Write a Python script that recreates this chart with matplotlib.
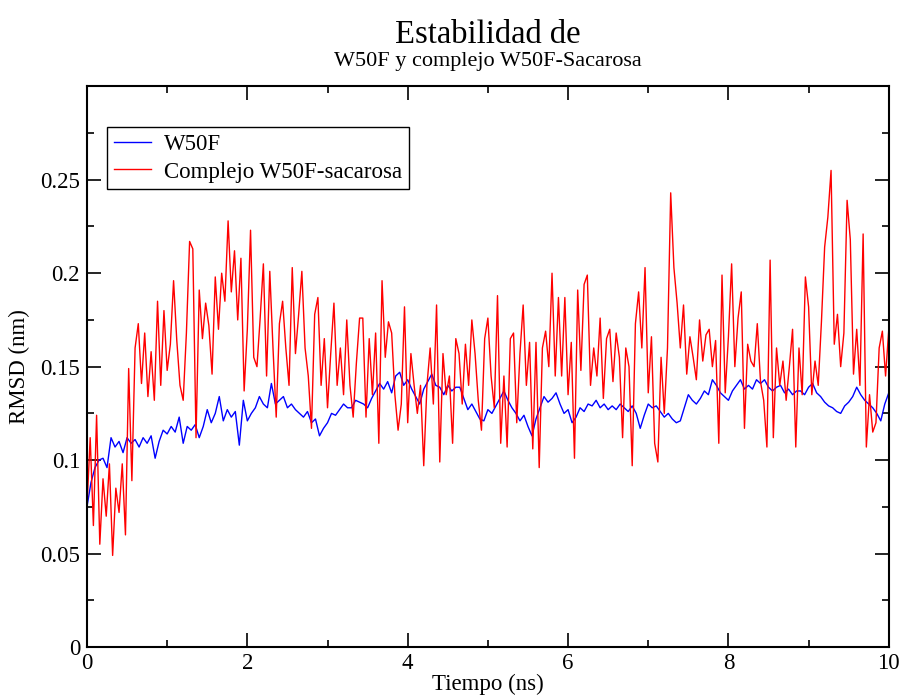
import numpy as np
import matplotlib
matplotlib.use('Agg')
import matplotlib.pyplot as plt
from matplotlib.ticker import MultipleLocator, FixedLocator

plt.rcParams['font.family'] = ['Liberation Serif', 'DejaVu Serif']

# RMSD (nm) of the free protein, sampled every 0.05 ns
t_w50f = np.arange(201) * 0.05
rmsd_w50f = [
    0.075, 0.088, 0.096, 0.100, 0.101, 0.096, 0.112, 0.107, 0.110, 0.104,
    0.112, 0.109, 0.111, 0.107, 0.112, 0.109, 0.113, 0.101, 0.110, 0.116,
    0.114, 0.118, 0.115, 0.123, 0.109, 0.118, 0.116, 0.119, 0.112, 0.118,
    0.127, 0.120, 0.125, 0.134, 0.121, 0.127, 0.123, 0.126, 0.108, 0.132,
    0.121, 0.125, 0.128, 0.134, 0.130, 0.128, 0.141, 0.130, 0.132, 0.134,
    0.128, 0.130, 0.127, 0.125, 0.123, 0.126, 0.120, 0.122, 0.113, 0.117,
    0.120, 0.125, 0.124, 0.127, 0.130, 0.128, 0.128, 0.132, 0.131, 0.130,
    0.128, 0.133, 0.137, 0.141, 0.138, 0.142, 0.136, 0.145, 0.147, 0.140,
    0.143, 0.138, 0.134, 0.130, 0.138, 0.142, 0.146, 0.140, 0.139, 0.135,
    0.140, 0.137, 0.139, 0.139, 0.133, 0.127, 0.130, 0.126, 0.122, 0.121,
    0.127, 0.125, 0.129, 0.133, 0.137, 0.132, 0.128, 0.125, 0.121, 0.124,
    0.118, 0.113, 0.122, 0.128, 0.134, 0.131, 0.133, 0.136, 0.130, 0.125,
    0.127, 0.120, 0.123, 0.128, 0.126, 0.130, 0.129, 0.132, 0.128, 0.130,
    0.127, 0.129, 0.127, 0.130, 0.128, 0.126, 0.129, 0.125, 0.117, 0.124,
    0.130, 0.128, 0.129, 0.126, 0.123, 0.125, 0.122, 0.120, 0.121, 0.128,
    0.135, 0.132, 0.130, 0.133, 0.137, 0.135, 0.143, 0.140, 0.136, 0.134,
    0.132, 0.137, 0.140, 0.143, 0.138, 0.140, 0.138, 0.143, 0.141, 0.143,
    0.139, 0.137, 0.139, 0.140, 0.136, 0.138, 0.135, 0.137, 0.137, 0.135,
    0.139, 0.141, 0.136, 0.134, 0.131, 0.129, 0.128, 0.126, 0.125, 0.129,
    0.131, 0.134, 0.139, 0.135, 0.132, 0.130, 0.128, 0.125, 0.121, 0.130,
    0.136,
]

# RMSD (nm) of the protein-sucrose complex, sampled every 0.04 ns
t_complejo = np.arange(251) * 0.04
rmsd_complejo = [
    0.075, 0.112, 0.065, 0.124, 0.055, 0.090, 0.070, 0.098, 0.049, 0.085,
    0.072, 0.098, 0.060, 0.149, 0.089, 0.160, 0.173, 0.141, 0.168, 0.134,
    0.158, 0.132, 0.185, 0.140, 0.180,
    0.148, 0.162, 0.196, 0.164, 0.140, 0.132, 0.168, 0.217, 0.213, 0.112,
    0.191, 0.165, 0.184, 0.172, 0.146, 0.198, 0.170, 0.200, 0.185, 0.228,
    0.190, 0.212, 0.175, 0.208, 0.137,
    0.170, 0.223, 0.155, 0.150, 0.176, 0.205, 0.145, 0.201, 0.160, 0.123,
    0.173, 0.185, 0.160, 0.140, 0.203, 0.157, 0.178, 0.201, 0.160, 0.145,
    0.117, 0.178, 0.187, 0.140, 0.165,
    0.128, 0.157, 0.184, 0.140, 0.160, 0.135, 0.175, 0.140, 0.123, 0.152,
    0.176, 0.176, 0.123, 0.165, 0.135, 0.168, 0.109, 0.196, 0.155, 0.174,
    0.168, 0.135, 0.116, 0.130, 0.182,
    0.120, 0.157, 0.140, 0.125, 0.140, 0.097, 0.140, 0.160, 0.130, 0.183,
    0.099, 0.157, 0.135, 0.145, 0.109, 0.165, 0.157, 0.130, 0.162, 0.140,
    0.175, 0.157, 0.132, 0.116, 0.165,
    0.176, 0.145, 0.128, 0.188, 0.109, 0.145, 0.107, 0.165, 0.168, 0.120,
    0.157, 0.183, 0.140, 0.163, 0.106, 0.163, 0.096, 0.160, 0.169, 0.150,
    0.200, 0.145, 0.187, 0.145, 0.187,
    0.135, 0.163, 0.101, 0.191, 0.148, 0.194, 0.199, 0.140, 0.160, 0.145,
    0.176, 0.133, 0.165, 0.170, 0.142, 0.168, 0.155, 0.112, 0.160, 0.150,
    0.097, 0.173, 0.190, 0.160, 0.203,
    0.136, 0.166, 0.109, 0.099, 0.155, 0.125, 0.160, 0.243, 0.203, 0.184,
    0.160, 0.183, 0.146, 0.166, 0.155, 0.143, 0.175, 0.153, 0.167, 0.170,
    0.150, 0.164, 0.109, 0.199, 0.136,
    0.166, 0.205, 0.150, 0.176, 0.190, 0.117, 0.162, 0.153, 0.150, 0.173,
    0.142, 0.132, 0.107, 0.207, 0.112, 0.160, 0.140, 0.153, 0.132, 0.150,
    0.170, 0.107, 0.160, 0.135, 0.198,
    0.182, 0.135, 0.153, 0.140, 0.174, 0.214, 0.230, 0.255, 0.162, 0.178,
    0.150, 0.168, 0.239, 0.218, 0.146, 0.170, 0.140, 0.221, 0.107, 0.135,
    0.115, 0.120, 0.160, 0.169, 0.145,
    0.170,
]

x_ticks = [0, 2, 4, 6, 8, 10]
x_ticklabels = ['0', '2', '4', '6', '8', '10']
y_ticks = [0, 0.05, 0.1, 0.15, 0.2, 0.25]
y_ticklabels = ['0', '0.05', '0.1', '0.15', '0.2', '0.25']

fig = plt.figure(figsize=(9.06, 7.0), dpi=100)
ax = fig.add_axes([0.096, 0.0757, 0.885, 0.801])

ax.plot(t_w50f, rmsd_w50f, color='#0000ff', lw=1.0, label='W50F')
ax.plot(t_complejo, rmsd_complejo, color='#ff0000', lw=1.0,
        label='Complejo W50F-sacarosa')

ax.set_xlim(0, 10)
ax.set_ylim(0, 0.3)
ax.xaxis.set_major_locator(FixedLocator(x_ticks))
ax.xaxis.set_minor_locator(MultipleLocator(1))
ax.yaxis.set_major_locator(FixedLocator(y_ticks))
ax.yaxis.set_minor_locator(MultipleLocator(0.025))
ax.set_xticklabels(x_ticklabels)
ax.set_yticklabels(y_ticklabels)

ax.tick_params(which='both', direction='in', top=True, right=True,
               labelsize=16.5, width=1.2)
ax.tick_params(axis='x', pad=4)
ax.tick_params(axis='y', pad=5)
ax.tick_params(which='major', length=10)
ax.tick_params(which='minor', length=5)
for sp in ax.spines.values():
    sp.set_linewidth(1.5)

ax.set_xlabel('Tiempo (ns)', fontsize=16.5, labelpad=0)
ax.set_ylabel('RMSD (nm)', fontsize=16.5, labelpad=7)

leg = ax.legend(loc='upper left', bbox_to_anchor=(0.025, 0.928),
                fontsize=16.5, fancybox=False, framealpha=1,
                edgecolor='black', handlelength=1.6, handletextpad=0.6,
                borderpad=0.3, labelspacing=0.3, borderaxespad=0)
leg.get_frame().set_linewidth(1.0)

fig.text(0.538, 0.951, 'Estabilidad de', ha='center', va='center', fontsize=23.5)
fig.text(0.538, 0.912, 'W50F y complejo W50F-Sacarosa', ha='center',
         va='center', fontsize=16)

fig.savefig('out.png', dpi=100)
